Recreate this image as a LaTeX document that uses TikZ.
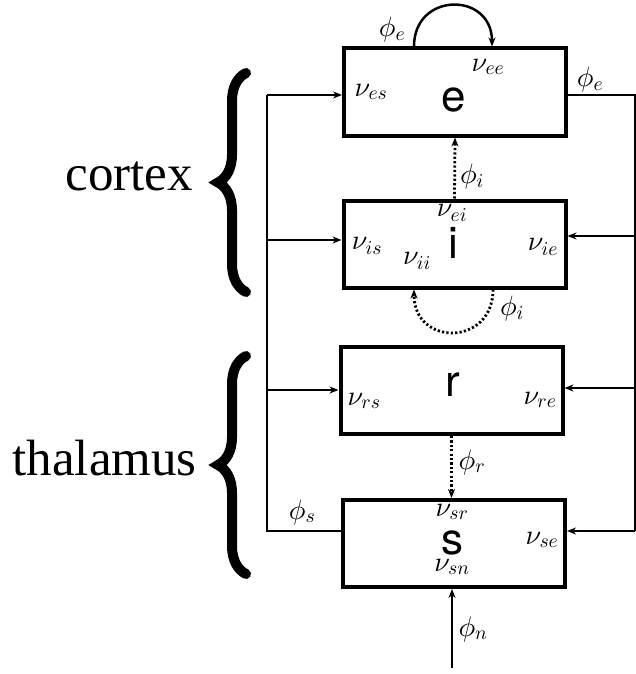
\documentclass[tikz,border=0pt]{standalone}
\usepackage{fontspec}
\setmainfont{Liberation Serif}
\newfontfamily\helv{TeX Gyre Heros}
\DeclareFontFamily{OML}{cmm}{\skewchar\font127}
\DeclareFontShape{OML}{cmm}{m}{it}{<->cmmi10}{}
\usetikzlibrary{arrows.meta,decorations.pathreplacing}
\tikzset{
  blk/.style={draw, line width=4pt, minimum width=222pt, minimum height=87pt, inner sep=0pt},
  wire/.style={line width=2pt},
  conn/.style={line width=2.5pt},
  dotl/.style={line width=2.8pt, dash pattern=on 2.2pt off 2.2pt},
  ml/.style={font=\fontsize{28}{30}\selectfont, inner sep=0pt},
  letter/.style={font=\helv\fontsize{44}{44}\selectfont, inner sep=0pt},
  region/.style={font=\fontsize{51}{55}\selectfont, inner sep=0pt, anchor=base east},
  bracestyle/.style={line width=10pt, line cap=round, decorate, decoration={brace, amplitude=28pt}},
  >={Stealth[length=9pt,width=7pt]}
}
\begin{document}
\begin{tikzpicture}[x=1pt,y=-1pt]
\useasboundingbox (0,0) rectangle (636,674);
% boxes
\node[blk] (e) at (455,92) {};
\node[blk] (i) at (454.5,244) {};
\node[blk] (r) at (451.5,390.5) {};
\node[blk] (s) at (454,543.5) {};
% letters
\node[letter] (le) at (454,100) {e};
\node[letter] (li) at (453,243) {i};
\node[letter] (lr) at (453,385) {r};
\node[letter] (ls) at (452,543) {s};
% labels inside boxes
\node[ml] (nes) at (371,92) {$\nu_{es}$};
\node[ml] (nee) at (488,67) {$\nu_{ee}$};
\node[ml] (nei) at (452,213) {$\nu_{ei}$};
\node[ml] (nis) at (367,246) {$\nu_{is}$};
\node[ml] (nii) at (417,261) {$\nu_{ii}$};
\node[ml] (nie) at (543,247) {$\nu_{ie}$};
\node[ml] (nrs) at (364,401) {$\nu_{rs}$};
\node[ml] (nre) at (540,400) {$\nu_{re}$};
\node[ml] (nsr) at (452,512) {$\nu_{sr}$};
\node[ml] (nsn) at (452,567) {$\nu_{sn}$};
\node[ml] (nse) at (542,540) {$\nu_{se}$};
% phi labels
\node[ml] (pe1) at (392,30) {$\phi_e$};
\node[ml] (pe2) at (590,80) {$\phi_e$};
\node[ml] (pi1) at (472,176) {$\phi_i$};
\node[ml] (pi2) at (512,308) {$\phi_i$};
\node[ml] (pr) at (472,462) {$\phi_r$};
\node[ml] (ps) at (302,512) {$\phi_s$};
\node[ml] (pn) at (473,629) {$\phi_n$};
% region labels
\node[region] (cx) at (193,190) {cortex};
\node[region] (th) at (197,475) {thalamus};
% braces
\draw[bracestyle] (246,292) -- (246,73);
\draw[bracestyle] (246,574) -- (246,356);
% left feed line
\coordinate (LT) at (267,95);
\coordinate (LI) at (267,240);
\coordinate (LR) at (267,390);
\coordinate (LB) at (267,531);
\draw[wire] (s.west |- LB) -- (LB) -- (LT);
\draw[wire,->] (LT) -- (e.west |- LT);
\draw[wire,->] (LI) -- (i.west |- LI);
\draw[wire,->] (LR) -- (r.west |- LR);
% right feed line
\coordinate (RT) at (635,95);
\coordinate (RI) at (635,236);
\coordinate (RR) at (635,388);
\coordinate (RB) at (635,531);
\draw[wire] (e.east |- RT) -- (RT) -- (RB);
\draw[wire,->] (RB) -- (s.east |- RB);
\draw[wire,->] (RI) -- (i.east |- RI);
\draw[wire,->] (RR) -- (r.east |- RR);
% e self loop
\draw[conn,->] ([xshift=-41pt]e.north) .. controls +(0,-55) and +(0,-55) .. ([xshift=37pt]e.north);
% i to e
\draw[dotl,->] (i.north) -- (e.south);
% i self loop
\draw[dotl,->] ([xshift=38.5pt]i.south) .. controls +(0,57) and +(0,57) .. ([xshift=-40.5pt]i.south);
% r to s
\draw[dotl,->] (r.south) -- (r.south |- s.north);
% input
\coordinate (N) at (452,668);
\draw[conn,->] (N) -- (N |- s.south);
\end{tikzpicture}
\end{document}
